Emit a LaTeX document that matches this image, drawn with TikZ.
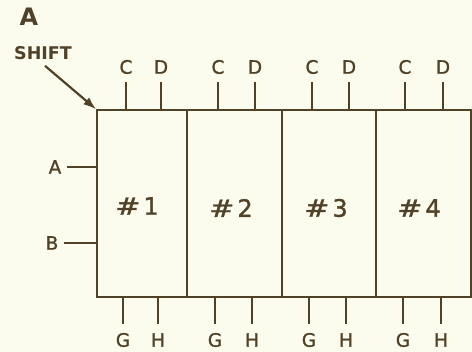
\documentclass[tikz,border=0pt]{standalone}
\usepackage{fontspec}
\setmainfont{DejaVu Sans}
\newfontfamily\lblfont{DejaVu Sans}[FakeBold=1.3]
\usetikzlibrary{arrows.meta}
\definecolor{ink}{RGB}{80,66,40}
\definecolor{paper}{RGB}{252,252,238}
\begin{document}
\begin{tikzpicture}[x=1pt,y=-1pt,
  cell/.style={draw=ink, line width=2.4pt, minimum height=187pt, inner sep=0pt, outer sep=0pt, anchor=north west},
  pin/.style={draw=ink, line width=2.4pt},
  lbl/.style={text=ink, font=\lblfont\fontsize{18.5}{18.5}\selectfont, inner sep=0pt},
  num/.style={text=ink, font=\lblfont\fontsize{24}{24}\selectfont, inner sep=0pt}]
\fill[paper] (0,0) rectangle (472,352);
\useasboundingbox (0,0) rectangle (472,352);
% cells
\node[cell, minimum width=90pt] (c1) at (97,110) {};
\node[cell, minimum width=95pt] (c2) at (187,110) {};
\node[cell, minimum width=94pt] (c3) at (282,110) {};
\node[cell, minimum width=95pt] (c4) at (376,110) {};
% numbers
\node[num] (n1) at (137,206) {\scalebox{1.25}[1]{\#}\hspace{3pt}1};
\node[num] (n2) at (231,208) {\scalebox{1.25}[1]{\#}\hspace{3pt}2};
\node[num] (n3) at (326,208) {\scalebox{1.25}[1]{\#}\hspace{3pt}3};
\node[num] (n4) at (419,208) {\scalebox{1.25}[1]{\#}\hspace{3pt}4};
% top pins
\foreach \k/\xc/\xd in {1/126/161, 2/218/255, 3/312/349, 4/405/443}{
  \node[lbl] (t\k c) at (\xc,67) {C};
  \node[lbl] (t\k d) at (\xd,67) {D};
  \draw[pin] (t\k c |- c\k.north) -- ([yshift=-8pt]t\k c.south);
  \draw[pin] (t\k d |- c\k.north) -- ([yshift=-8pt]t\k d.south);
}
% bottom pins
\foreach \k/\xg/\xh in {1/123/158, 2/215/252, 3/309/346, 4/403/441}{
  \node[lbl] (b\k g) at (\xg,340) {G};
  \node[lbl] (b\k h) at (\xh,340) {H};
  \draw[pin] (b\k g |- c\k.south) -- ([yshift=9pt]b\k g.north);
  \draw[pin] (b\k h |- c\k.south) -- ([yshift=9pt]b\k h.north);
}
% side inputs
\node[lbl] (ina) at (55,167) {A};
\node[lbl] (inb) at (52,243) {B};
\draw[pin] ([xshift=5pt]ina.east) -- (ina -| c1.west);
\draw[pin] ([xshift=5pt]inb.east) -- (inb -| c1.west);
% title and shift arrow
\node[text=ink, font=\fontsize{24}{24}\selectfont\bfseries, inner sep=0pt] (title) at (29,17) {A};
\node[text=ink, font=\fontsize{17.5}{17.5}\selectfont\bfseries, inner sep=0pt] (shift) at (43,53) {SHIFT};
\draw[ink, line width=2.2pt, -{Latex[length=13pt,width=9pt]}, shorten >=1pt] ([xshift=2pt,yshift=-6pt]shift.south) -- (c1.north west);
\end{tikzpicture}
\end{document}
